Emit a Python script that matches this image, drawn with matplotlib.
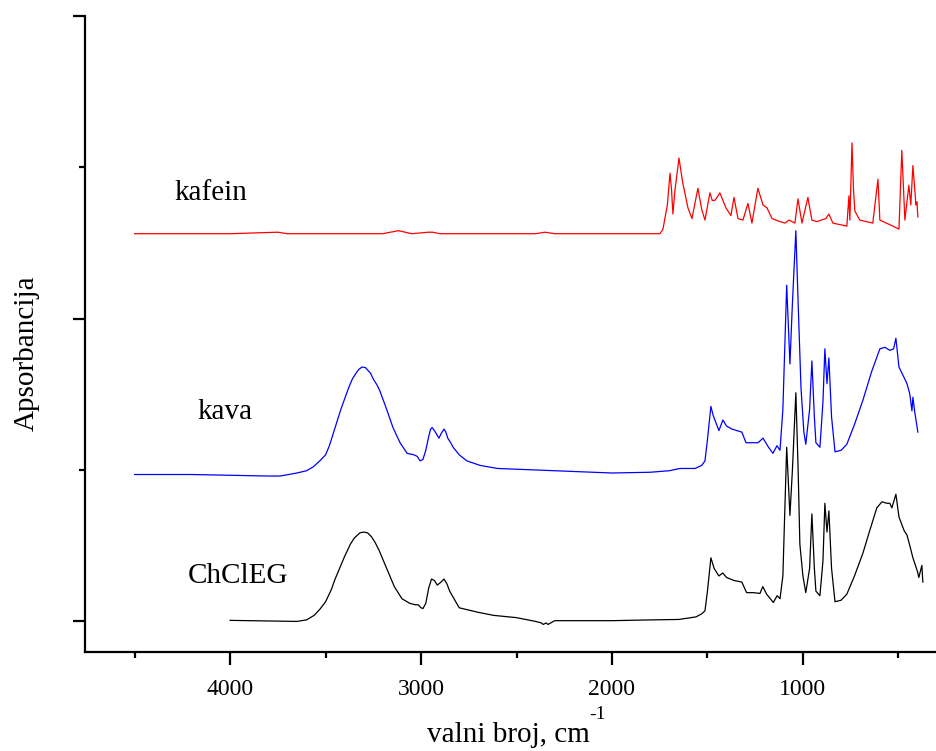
import matplotlib
matplotlib.use("Agg")
import matplotlib.pyplot as plt
from matplotlib.ticker import MultipleLocator, NullFormatter

plt.rcParams.update({
    "font.family": "Liberation Serif",
})

chcleg_wn = [4000, 3800, 3650, 3600, 3560, 3530, 3500, 3470, 3450, 3420, 3400, 3370,
             3350, 3320, 3300, 3280, 3260, 3240, 3220, 3200, 3180, 3140, 3100, 3060,
             3030, 3015, 3000, 2990, 2975, 2960, 2945, 2930, 2915, 2895, 2880, 2865,
             2850, 2800, 2700, 2620, 2500, 2400, 2370, 2360, 2345, 2335, 2300, 2000,
             1800, 1650, 1560, 1530, 1513, 1500, 1482, 1465, 1440, 1420, 1400, 1360,
             1320, 1295, 1260, 1225, 1210, 1190, 1155, 1135, 1120, 1105, 1085, 1068,
             1055, 1037, 1025, 1016, 1000, 985, 965, 953, 940, 932, 911, 895, 885, 874,
             864, 850, 832, 800, 770, 730, 686, 650, 613, 586, 560, 545, 534, 513, 497,
             470, 455, 440, 424, 400, 393, 377, 372]
chcleg_ab = [0.007, 0.003, 0.0, 0.01, 0.04, 0.08, 0.13, 0.21, 0.28, 0.37, 0.43, 0.51,
             0.55, 0.585, 0.59, 0.585, 0.56, 0.52, 0.47, 0.41, 0.35, 0.23, 0.15, 0.12,
             0.11, 0.11, 0.09, 0.085, 0.12, 0.22, 0.28, 0.27, 0.24, 0.26, 0.28, 0.25,
             0.20, 0.09, 0.06, 0.04, 0.025, 0.0, -0.01, -0.02, -0.01, -0.02, 0.005, 0.005,
             0.01, 0.013, 0.03, 0.05, 0.07, 0.2, 0.42, 0.35, 0.30, 0.32, 0.29, 0.27,
             0.26, 0.19, 0.19, 0.185, 0.23, 0.18, 0.125, 0.17, 0.15, 0.3, 1.15, 0.70,
             1.0, 1.51, 1.0, 0.51, 0.30, 0.19, 0.35, 0.71, 0.35, 0.2, 0.17, 0.4, 0.78, 0.59,
             0.73, 0.35, 0.13, 0.14, 0.18, 0.3, 0.45, 0.6, 0.75, 0.79, 0.78, 0.78, 0.75, 0.84, 0.69,
             0.60, 0.57, 0.50, 0.42, 0.33, 0.29, 0.37, 0.26]

kava_wn = [4500, 4200, 4000, 3800, 3738, 3650, 3600, 3565, 3530, 3500, 3480, 3460,
           3440, 3420, 3400, 3380, 3360, 3340, 3325, 3309, 3290, 3280, 3265, 3250,
           3230, 3215, 3180, 3147, 3110, 3073, 3037, 3020, 3005, 2990, 2975, 2960,
           2950, 2942, 2930, 2906, 2895, 2880, 2870, 2860, 2845, 2832, 2800, 2760,
           2690, 2600, 2400, 2200, 2000, 1800, 1700, 1644, 1565, 1530, 1513, 1500,
           1482, 1470, 1461, 1440, 1419, 1400, 1372, 1320, 1298, 1235, 1209, 1180,
           1157, 1136, 1120, 1105, 1085, 1068, 1055, 1037, 1025, 1010, 995, 985, 965,
           953, 940, 932, 911, 895, 885, 874, 864, 850, 832, 800, 770, 730, 686, 640,
           597, 570, 545, 525, 513, 497, 470, 455, 440, 429, 424, 414, 398]
kava_ab = [0.97, 0.97, 0.965, 0.96, 0.96, 0.98, 0.995, 1.02, 1.06, 1.10, 1.16, 1.24,
           1.32, 1.40, 1.47, 1.54, 1.60, 1.64, 1.665, 1.68, 1.675, 1.66, 1.64, 1.60,
           1.56, 1.52, 1.40, 1.28, 1.18, 1.11, 1.10, 1.09, 1.06, 1.07, 1.13, 1.22,
           1.27, 1.28, 1.26, 1.21, 1.24, 1.27, 1.25, 1.21, 1.18, 1.15, 1.10, 1.06,
           1.03, 1.01, 1.00, 0.99, 0.98, 0.985, 0.995, 1.01, 1.01, 1.03, 1.06, 1.2,
           1.42, 1.36, 1.33, 1.26, 1.33, 1.29, 1.27, 1.25, 1.18, 1.18, 1.21, 1.15,
           1.11, 1.16, 1.13, 1.4, 2.22, 1.70, 2.1, 2.58, 2.1, 1.54, 1.25, 1.17, 1.4,
           1.72, 1.35, 1.18, 1.15, 1.45, 1.80, 1.57, 1.74, 1.35, 1.12, 1.13, 1.17, 1.30, 1.46, 1.65,
           1.80, 1.81, 1.79, 1.80, 1.87, 1.68, 1.61, 1.57, 1.50, 1.39, 1.48, 1.38, 1.25]

kafein_wn = [4500, 4000, 3750, 3700, 3200, 3120, 3100, 3050, 2960, 2940, 2900, 2400,
             2350, 2300, 2063, 1749, 1733, 1710, 1696, 1688, 1681, 1670, 1649, 1630,
             1602, 1581, 1550, 1530, 1513, 1487, 1475, 1461, 1450, 1435, 1403, 1377,
             1361, 1340, 1314, 1288, 1267, 1236, 1209, 1188, 1162, 1120, 1094, 1073,
             1042, 1026, 1005, 974, 953, 927, 880, 864, 843, 770, 759, 754, 743, 735,
             728, 702, 634, 607, 597, 529, 497, 482, 466, 445, 435, 424, 408, 403, 398]
kafein_ab = [2.56, 2.56, 2.57, 2.56, 2.56, 2.58, 2.575, 2.56, 2.57, 2.57, 2.56, 2.56,
             2.57, 2.56, 2.56, 2.56, 2.59, 2.75, 2.96, 2.85, 2.69, 2.85, 3.06, 2.90,
             2.73, 2.66, 2.86, 2.72, 2.65, 2.83, 2.78, 2.78, 2.80, 2.83, 2.73, 2.68,
             2.80, 2.66, 2.65, 2.76, 2.63, 2.86, 2.75, 2.73, 2.66, 2.64, 2.63, 2.65,
             2.63, 2.79, 2.63, 2.80, 2.65, 2.64, 2.66, 2.69, 2.63, 2.61, 2.81, 2.65, 3.16, 2.85,
             2.71, 2.65, 2.63, 2.92, 2.65, 2.61, 2.59, 3.11, 2.65, 2.88, 2.75, 3.01, 2.75, 2.77, 2.67]

fig = plt.figure(figsize=(9.36, 7.51), dpi=100, facecolor="white")
ax = fig.add_axes([0.0908, 0.1322, 0.9092, 0.847])

ax.plot(chcleg_wn, chcleg_ab, color="black", lw=0.9)
ax.plot(kava_wn, kava_ab, color="#0000ff", lw=0.9)
ax.plot(kafein_wn, kafein_ab, color="#ff0000", lw=0.9)

ax.text(4100, 2.83, "kafein", fontsize=21, ha="center", va="center")
ax.text(4026, 1.38, "kava", fontsize=21, ha="center", va="center")
ax.text(3958, 0.30, "ChClEG", fontsize=21, ha="center", va="center")

ax.set_xlim(4760, 303)
ax.set_ylim(-0.2, 4.0)

ax.spines["top"].set_visible(False)
ax.spines["right"].set_visible(False)
for s in ("left", "bottom"):
    ax.spines[s].set_linewidth(1.6)

ax.xaxis.set_major_locator(MultipleLocator(1000))
ax.xaxis.set_minor_locator(MultipleLocator(500))
ax.yaxis.set_major_locator(MultipleLocator(2))
ax.yaxis.set_minor_locator(MultipleLocator(1))
ax.yaxis.set_major_formatter(NullFormatter())
ax.tick_params(which="major", direction="out", length=9, width=1.6, labelsize=17, pad=11)
ax.tick_params(which="minor", direction="out", length=4.5, width=1.6)

# x label with a plain-hyphen superscript, as in the original
fig.text(0.543, 0.021, "valni broj, cm", fontsize=21, ha="center", va="center")
fig.text(0.630, 0.049, "-1", fontsize=14, ha="left", va="center")
fig.text(0.029, 0.53, "Apsorbancija", fontsize=21, rotation=90, ha="center", va="center")

fig.savefig("out.png", dpi=100, facecolor="white")
